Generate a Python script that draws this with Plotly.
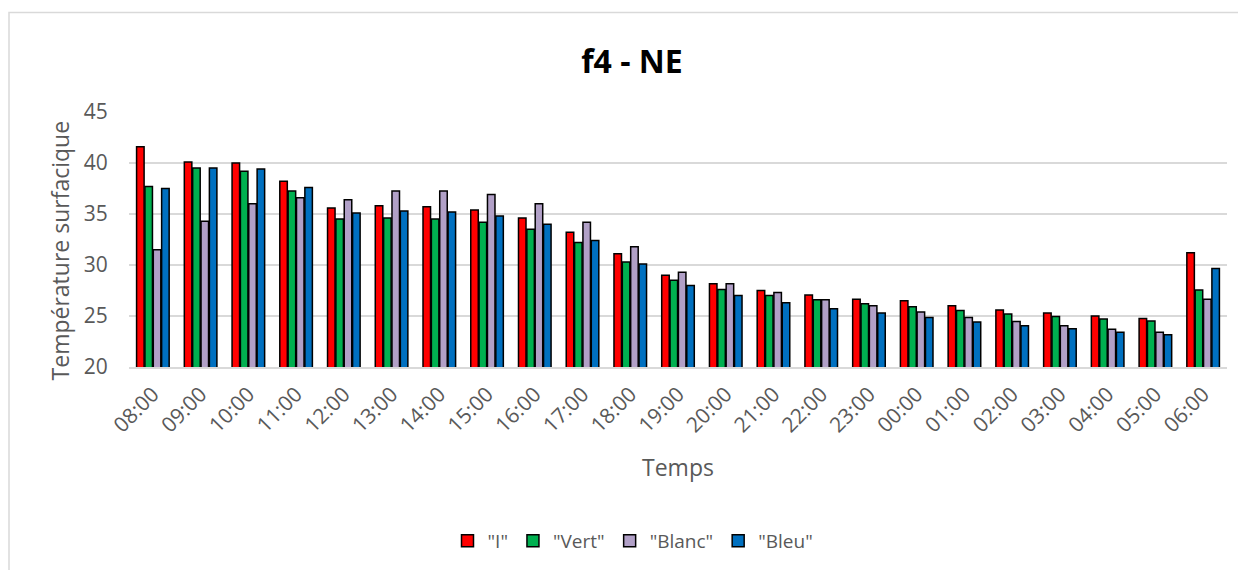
import plotly.graph_objects as go

categories = ["08:00", "09:00", "10:00", "11:00", "12:00", "13:00", "14:00", "15:00",
              "16:00", "17:00", "18:00", "19:00", "20:00", "21:00", "22:00", "23:00",
              "00:00", "01:00", "02:00", "03:00", "04:00", "05:00", "06:00"]

serie_I = [41.6, 40.1, 40.0, 38.2, 35.6, 35.8, 35.7, 35.4, 34.6, 33.2, 31.1, 29.0,
           28.15, 27.5, 27.05, 26.65, 26.5, 26.0, 25.6, 25.3, 25.0, 24.75, 31.2]
serie_vert = [37.7, 39.5, 39.2, 37.25, 34.5, 34.6, 34.5, 34.2, 33.5, 32.2, 30.3, 28.5,
              27.6, 27.0, 26.6, 26.2, 25.9, 25.55, 25.2, 24.95, 24.7, 24.5, 27.55]
serie_blanc = [31.5, 34.3, 36.0, 36.6, 36.4, 37.25, 37.25, 36.9, 36.0, 34.2, 31.8, 29.3,
               28.15, 27.3, 26.6, 26.0, 25.4, 24.85, 24.45, 24.05, 23.7, 23.4, 26.65]
serie_bleu = [37.5, 39.5, 39.4, 37.6, 35.1, 35.3, 35.2, 34.8, 34.0, 32.4, 30.1, 28.0,
              27.0, 26.3, 25.7, 25.3, 24.85, 24.4, 24.05, 23.75, 23.4, 23.15, 29.65]

series_names = ['"I"', '"Vert"', '"Blanc"', '"Bleu"']
series_colors = ["#FF0000", "#00B050", "#B1A0C7", "#0070C0"]
series_values = [serie_I, serie_vert, serie_blanc, serie_bleu]

FONT = "Open Sans"
GRAY = "#595959"

fig = go.Figure()
for name, color, vals in zip(series_names, series_colors, series_values):
    fig.add_trace(go.Bar(
        x=categories, y=vals, name=name,
        marker=dict(color=color, line=dict(color="black", width=1.5)),
    ))

# page body has an 8px margin: figure drawn 8px in from the window corner
OFF = 8
W, H = 1246 - OFF, 570 - OFF
L, R, T, B = 129 - OFF, 19, 112 - OFF, 202
pw, ph = W - L - R, H - T - B


def px_x(p):
    return (p - OFF - L) / pw


def px_y(p):
    return (H - B - (p - OFF)) / ph


fig.update_layout(
    width=W, height=H,
    margin=dict(l=L, r=R, t=T, b=B),
    paper_bgcolor="white", plot_bgcolor="white",
    barmode="group", bargap=0.3, bargroupgap=0.1,
    font=dict(family=FONT, color=GRAY, size=20),
    title=dict(text="<b>f4 - NE</b>", x=(632 - OFF) / W, xanchor="center",
               y=1 - (62 - OFF) / H, yanchor="middle", xref="container",
               yref="container",
               font=dict(family=FONT, size=32, color="black")),
    showlegend=True,
    legend=dict(orientation="h", x=px_x(633), xanchor="center",
                y=px_y(541), yanchor="middle",
                font=dict(family=FONT, size=19, color=GRAY),
                bgcolor="rgba(0,0,0,0)"),
    xaxis=dict(type="category", tickangle=-45, showgrid=False,
               showline=True, linecolor="#d9d9d9", linewidth=1.5,
               ticks="outside", ticklen=5, tickcolor="rgba(0,0,0,0)",
               tickfont=dict(family=FONT, size=21, color=GRAY)),
    yaxis=dict(range=[20, 45], dtick=5, showgrid=True, gridcolor="#d9d9d9",
               gridwidth=1.5, zeroline=False, showline=False,
               ticks="outside", ticklen=16, tickcolor="rgba(0,0,0,0)",
               tickfont=dict(family=FONT, size=21, color=GRAY)),
    annotations=[
        dict(text="Température surfacique", xref="paper", yref="paper",
             x=px_x(60), y=px_y(251), textangle=-90, showarrow=False,
             xanchor="center", yanchor="middle",
             font=dict(family=FONT, size=23, color=GRAY)),
        dict(text="Temps", xref="paper", yref="paper",
             x=px_x(678), y=px_y(468), showarrow=False,
             xanchor="center", yanchor="middle",
             font=dict(family=FONT, size=23, color=GRAY)),
    ],
    shapes=[
        dict(type="rect", xref="paper", yref="paper",
             x0=px_x(9), x1=px_x(1260), y0=px_y(590), y1=px_y(12),
             line=dict(color="#d9d9d9", width=1.5), fillcolor="rgba(0,0,0,0)",
             layer="below"),
    ],
)

fig.write_html("out.html")
